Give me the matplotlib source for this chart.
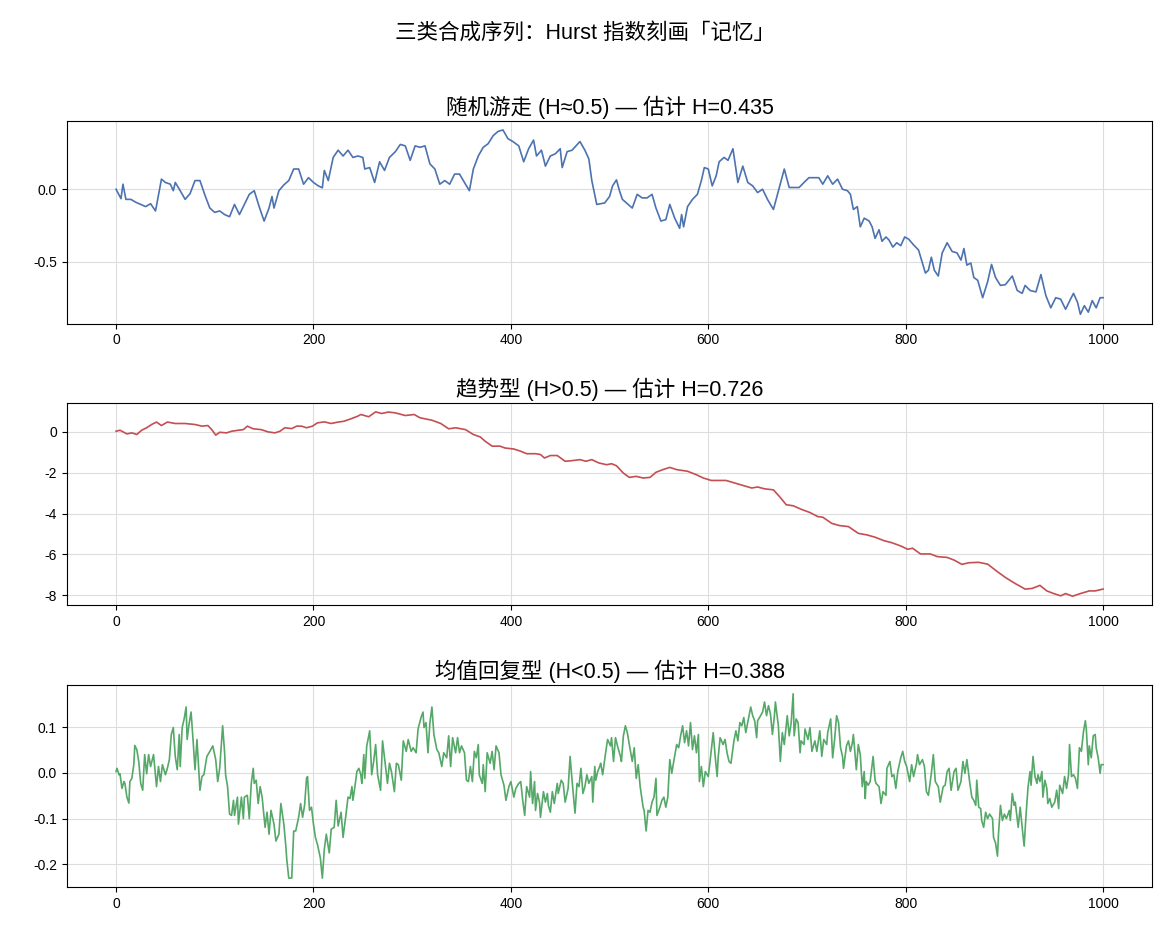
import matplotlib
matplotlib.use("Agg")
import matplotlib.pyplot as plt
from matplotlib.ticker import MultipleLocator

plt.rcParams['font.family'] = ['Liberation Sans', 'Noto Sans CJK SC']
plt.rcParams['axes.unicode_minus'] = False

# 随机游走 (readings)
rw_x = [0, 3, 5, 7, 10, 15, 20, 25, 30, 35, 40, 46, 50, 55, 58, 60, 65, 70, 75, 80,
        85, 90, 95, 100, 105, 110, 115, 120, 125, 130, 135, 140, 145, 150, 155, 158, 160, 165, 170, 175,
        180, 185, 190, 195, 200, 205, 209, 211, 215, 220, 225, 230, 235, 240, 245, 250, 252, 257, 262, 267,
        272, 277, 283, 288, 293, 298, 303, 308, 313, 318, 323, 328, 333, 338, 343, 348, 354, 358, 362, 367,
        372, 377, 382, 387, 392, 397, 402, 408, 413, 418, 423, 426, 431, 435, 440, 445, 450, 452, 457, 462,
        470, 475, 479, 482, 487, 495, 500, 503, 507, 510, 513, 518, 523, 528, 533, 538, 543, 547, 552, 557,
        561, 566, 571, 573, 575, 579, 584, 589, 593, 596, 600, 604, 608, 611, 616, 620, 625, 630, 635, 640,
        645, 650, 655, 660, 666, 672, 677, 682, 687, 692, 697, 702, 707, 712, 716, 721, 726, 731, 736, 741,
        744, 747, 751, 754, 758, 763, 766, 769, 773, 776, 780, 783, 787, 791, 795, 799, 803, 808, 813, 817,
        820, 823, 826, 829, 833, 837, 842, 847, 852, 856, 859, 862, 866, 869, 873, 878, 883, 887, 891, 896,
        901, 908, 913, 918, 921, 926, 932, 937, 942, 947, 952, 957, 962, 967, 970, 974, 977, 981, 985, 989,
        993, 997, 1000]
rw_y = [0.0, -0.04, -0.065, 0.035, -0.07, -0.07, -0.09, -0.105, -0.12, -0.10, -0.15, 0.07, 0.047, 0.035, -0.01, 0.047, -0.01, -0.07, -0.03, 0.06,
        0.06, -0.04, -0.13, -0.16, -0.15, -0.175, -0.19, -0.105, -0.175, -0.105, -0.035, -0.01, -0.12, -0.22, -0.13, -0.05, -0.13, -0.01, 0.03, 0.06,
        0.14, 0.14, 0.035, 0.08, 0.047, 0.023, 0.01, 0.13, 0.06, 0.22, 0.27, 0.23, 0.27, 0.22, 0.23, 0.22, 0.14, 0.15, 0.047, 0.19,
        0.13, 0.22, 0.26, 0.31, 0.30, 0.20, 0.30, 0.29, 0.30, 0.175, 0.14, 0.035, 0.06, 0.035, 0.105, 0.105, 0.035, -0.01, 0.14, 0.23,
        0.29, 0.315, 0.37, 0.40, 0.41, 0.35, 0.33, 0.30, 0.19, 0.28, 0.34, 0.23, 0.27, 0.16, 0.23, 0.245, 0.28, 0.15, 0.26, 0.27,
        0.33, 0.27, 0.21, 0.06, -0.105, -0.095, -0.05, 0.023, 0.065, -0.01, -0.07, -0.10, -0.13, -0.035, -0.06, -0.06, -0.035, -0.13, -0.22, -0.21,
        -0.105, -0.20, -0.27, -0.175, -0.26, -0.12, -0.07, -0.035, 0.06, 0.15, 0.14, 0.023, 0.093, 0.19, 0.22, 0.20, 0.28, 0.047, 0.16, 0.047,
        0.023, -0.023, 0.0, -0.07, -0.14, 0.012, 0.14, 0.012, 0.012, 0.012, 0.047, 0.08, 0.08, 0.08, 0.035, 0.093, 0.035, 0.07, 0.0, -0.01,
        -0.035, -0.14, -0.12, -0.26, -0.20, -0.22, -0.26, -0.34, -0.28, -0.36, -0.33, -0.35, -0.40, -0.37, -0.39, -0.33, -0.345, -0.385, -0.42, -0.51,
        -0.58, -0.56, -0.47, -0.56, -0.60, -0.44, -0.37, -0.43, -0.44, -0.49, -0.41, -0.525, -0.51, -0.61, -0.63, -0.75, -0.64, -0.52, -0.61, -0.665,
        -0.66, -0.60, -0.70, -0.72, -0.665, -0.70, -0.71, -0.59, -0.735, -0.82, -0.75, -0.76, -0.83, -0.76, -0.72, -0.78, -0.865, -0.805, -0.85, -0.77,
        -0.82, -0.75, -0.75]

# 趋势型
tr_x = [0, 4, 11, 16, 21, 26, 31, 36, 41, 46, 52, 60, 70, 80, 87, 93, 97, 101, 105, 112,
        117, 124, 129, 133, 139, 147, 154, 161, 166, 171, 178, 183, 188, 193, 199, 204, 211, 218, 225, 231,
        238, 245, 248, 256, 263, 269, 276, 283, 293, 302, 308, 320, 329, 337, 344, 354, 362, 369, 374, 381,
        389, 394, 403, 410, 416, 425, 430, 434, 440, 447, 455, 462, 470, 476, 482, 489, 497, 502, 507, 514,
        520, 527, 534, 541, 547, 554, 561, 568, 579, 588, 595, 603, 611, 618, 625, 633, 644, 650, 657, 666,
        672, 679, 686, 694, 703, 711, 716, 725, 733, 742, 748, 752, 761, 769, 778, 786, 795, 802, 807, 815,
        825, 832, 842, 849, 857, 864, 874, 883, 893, 901, 911, 921, 928, 936, 943, 950, 957, 962, 969, 977,
        986, 992, 1000]
tr_y = [0.03, 0.08, -0.1, -0.05, -0.13, 0.08, 0.2, 0.36, 0.48, 0.31, 0.48, 0.41, 0.41, 0.36, 0.28, 0.31, 0.11, -0.16, -0.02, -0.05,
        0.03, 0.08, 0.11, 0.28, 0.15, 0.11, 0.0, -0.05, 0.03, 0.2, 0.16, 0.28, 0.28, 0.2, 0.28, 0.44, 0.49, 0.41, 0.48, 0.52,
        0.64, 0.77, 0.85, 0.74, 0.98, 0.90, 0.97, 0.93, 0.80, 0.85, 0.69, 0.57, 0.41, 0.15, 0.2, 0.11, -0.13, -0.25, -0.46, -0.70,
        -0.70, -0.79, -0.84, -0.95, -1.07, -1.07, -1.11, -1.28, -1.16, -1.16, -1.44, -1.41, -1.36, -1.44, -1.36, -1.52, -1.61, -1.56, -1.66, -2.02,
        -2.23, -2.18, -2.26, -2.23, -1.98, -1.85, -1.74, -1.85, -1.93, -2.10, -2.26, -2.38, -2.38, -2.38, -2.48, -2.59, -2.75, -2.70, -2.79, -2.84,
        -3.16, -3.57, -3.62, -3.79, -3.95, -4.15, -4.18, -4.48, -4.59, -4.64, -4.84, -4.97, -5.05, -5.16, -5.33, -5.43, -5.59, -5.75, -5.70, -5.98,
        -5.98, -6.11, -6.15, -6.28, -6.49, -6.41, -6.39, -6.48, -6.85, -7.13, -7.43, -7.70, -7.67, -7.52, -7.79, -7.92, -8.03, -7.92, -8.05, -7.92,
        -7.79, -7.79, -7.70]

# 均值回复型
mr_x = [0, 1, 3, 4, 6, 8, 9, 11, 13, 14, 16, 18, 19, 21, 23, 25, 27, 29, 31, 33,
        35, 38, 41, 43, 45, 47, 50, 52, 54, 56, 58, 60, 62, 64, 65, 67, 69, 71, 72, 74,
        76, 78, 80, 82, 83, 85, 87, 89, 92, 95, 98, 101, 103, 105, 108, 110, 111, 113, 115, 117,
        119, 120, 123, 124, 127, 129, 130, 133, 135, 137, 139, 140, 142, 144, 146, 148, 151, 153, 155, 157,
        160, 162, 165, 167, 170, 172, 173, 175, 178, 180, 182, 185, 187, 189, 191, 193, 194, 196, 198, 200,
        202, 204, 207, 209, 211, 213, 216, 218, 221, 223, 225, 228, 230, 233, 235, 237, 239, 240, 242, 244,
        246, 248, 249, 251, 252, 254, 257, 259, 261, 263, 265, 268, 270, 273, 275, 277, 279, 282, 284, 286,
        289, 291, 294, 296, 299, 301, 304, 306, 309, 311, 312, 314, 316, 318, 320, 322, 325, 327, 330, 332,
        335, 337, 339, 341, 344, 346, 348, 350, 353, 355, 357, 359, 361, 363, 365, 367, 368, 371, 372, 374,
        376, 379, 381, 383, 385, 388, 390, 393, 395, 398, 400, 403, 405, 408, 410, 412, 414, 416, 419, 420,
        422, 424, 425, 427, 429, 430, 433, 435, 437, 438, 440, 442, 444, 447, 448, 451, 453, 455, 458, 460,
        462, 465, 467, 469, 471, 473, 475, 477, 479, 482, 483, 485, 486, 488, 490, 491, 493, 496, 498, 501,
        502, 504, 506, 508, 511, 512, 514, 516, 518, 520, 523, 525, 527, 529, 531, 534, 535, 537, 539, 541,
        543, 545, 547, 548, 551, 553, 555, 557, 559, 561, 563, 565, 568, 570, 572, 574, 576, 578, 580, 582,
        584, 586, 588, 590, 591, 593, 595, 597, 600, 602, 605, 607, 609, 610, 612, 615, 617, 619, 621, 623,
        626, 628, 630, 632, 634, 636, 638, 640, 643, 645, 647, 649, 650, 653, 655, 657, 659, 661, 663, 665,
        667, 668, 671, 673, 675, 677, 680, 682, 684, 686, 687, 689, 691, 693, 694, 697, 698, 701, 703, 705,
        708, 710, 713, 715, 717, 720, 721, 724, 726, 728, 730, 732, 734, 736, 737, 740, 742, 744, 746, 747,
        750, 752, 754, 756, 758, 759, 760, 762, 764, 765, 767, 769, 770, 773, 775, 777, 780, 781, 784, 786,
        788, 790, 792, 795, 797, 799, 801, 804, 806, 808, 811, 812, 814, 817, 819, 821, 823, 826, 828, 830,
        833, 835, 838, 840, 842, 844, 846, 849, 851, 853, 856, 858, 860, 862, 865, 867, 869, 871, 872, 874,
        876, 877, 879, 881, 883, 885, 888, 889, 891, 893, 894, 896, 898, 900, 902, 905, 906, 908, 910, 911,
        914, 916, 918, 920, 922, 924, 926, 927, 929, 931, 933, 934, 936, 938, 939, 941, 943, 944, 946, 948,
        951, 953, 955, 956, 959, 961, 963, 965, 966, 968, 970, 972, 974, 976, 978, 980, 982, 983, 985, 986,
        988, 990, 992, 993, 995, 997, 998, 1000]
mr_y = [0.003, 0.01, -0.004, -0.002, -0.034, -0.019, -0.023, -0.053, -0.066, -0.019, -0.012, 0.018, 0.06, 0.051, 0.025, -0.023, -0.038, 0.04, -0.002, 0.04,
        0.014, 0.04, -0.03, 0.014, -0.019, 0.018, -0.004, 0.01, 0.029, 0.084, 0.099, 0.036, 0.007, 0.084, 0.014, 0.099, 0.118, 0.144, 0.073, 0.107,
        0.133, 0.073, 0.007, 0.073, 0.036, -0.038, -0.008, -0.004, 0.036, 0.047, 0.059, 0.029, -0.019, 0.01, 0.103, 0.044, -0.004, -0.03, -0.09, -0.093,
        -0.06, -0.093, -0.053, -0.112, -0.053, -0.1, -0.053, -0.049, -0.1, -0.023, 0.01, -0.023, -0.016, -0.067, -0.03, -0.053, -0.119, -0.086, -0.134, -0.082,
        -0.112, -0.149, -0.134, -0.067, -0.112, -0.16, -0.19, -0.23, -0.23, -0.127, -0.127, -0.097, -0.067, -0.097, -0.071, -0.012, -0.008, -0.082, -0.075, -0.112,
        -0.141, -0.156, -0.186, -0.23, -0.167, -0.134, -0.175, -0.123, -0.119, -0.06, -0.116, -0.086, -0.141, -0.09, -0.053, -0.056, -0.03, -0.06, -0.03, 0.003,
        0.01, -0.004, -0.023, 0.04, -0.012, 0.059, 0.092, -0.004, 0.025, 0.062, -0.004, -0.038, 0.07, 0.014, -0.023, 0.021, 0.003, -0.041, 0.021, 0.018,
        -0.016, 0.07, 0.047, 0.073, 0.047, 0.055, 0.044, 0.096, 0.121, 0.133, 0.099, 0.11, 0.044, 0.11, 0.144, 0.084, 0.051, 0.044, 0.014, 0.044,
        0.033, 0.081, 0.014, 0.077, 0.044, 0.077, 0.044, 0.059, 0.044, -0.016, -0.019, 0.014, -0.019, 0.047, 0.033, 0.062, -0.004, -0.023, 0.018, -0.041,
        0.044, 0.021, 0.047, 0.007, 0.059, 0.044, -0.004, -0.027, -0.06, -0.03, -0.019, -0.053, -0.034, -0.023, -0.019, -0.06, -0.093, -0.03, -0.053, 0.003,
        -0.067, -0.019, -0.082, -0.045, -0.064, -0.097, -0.041, -0.064, -0.045, -0.071, -0.086, -0.041, -0.067, -0.023, -0.045, -0.016, -0.023, -0.064, -0.034, 0.036,
        -0.016, -0.088, -0.023, -0.03, 0.01, -0.045, -0.03, -0.004, -0.023, -0.008, -0.064, 0.014, -0.016, 0.003, 0.014, 0.021, -0.004, 0.044, 0.073, 0.059,
        0.077, 0.025, 0.077, 0.059, 0.036, 0.025, 0.081, 0.103, 0.088, 0.062, 0.025, 0.055, -0.012, 0.018, -0.03, -0.075, -0.082, -0.127, -0.082, -0.086,
        -0.064, -0.053, -0.012, -0.093, -0.075, -0.06, -0.053, -0.075, -0.053, 0.029, -0.001, 0.025, 0.062, 0.055, 0.081, 0.103, 0.066, 0.092, 0.059, 0.11,
        0.051, 0.081, 0.044, 0.084, -0.019, 0.014, -0.03, 0.003, -0.008, 0.029, 0.088, 0.036, -0.008, 0.033, 0.077, 0.062, 0.073, 0.044, 0.025, 0.021,
        0.07, 0.092, 0.07, 0.11, 0.103, 0.121, 0.088, 0.11, 0.144, 0.125, 0.114, 0.077, 0.114, 0.125, 0.133, 0.155, 0.125, 0.147, 0.129, 0.084,
        0.125, 0.155, 0.103, 0.025, 0.088, 0.062, 0.125, 0.081, 0.11, 0.173, 0.081, 0.118, 0.11, 0.044, 0.07, 0.062, 0.096, 0.073, 0.099, 0.047,
        0.07, 0.047, 0.092, 0.036, 0.073, 0.062, 0.088, 0.118, 0.033, 0.073, 0.125, 0.11, 0.055, 0.036, 0.01, 0.059, 0.07, 0.047, 0.066, 0.084,
        0.007, 0.062, 0.04, -0.03, 0.003, -0.056, -0.019, -0.027, -0.019, -0.001, 0.036, -0.016, -0.023, -0.03, -0.067, -0.041, -0.049, 0.01, 0.025, -0.008,
        -0.004, -0.034, 0.003, 0.033, 0.047, 0.025, 0.014, -0.019, 0.018, -0.008, 0.021, 0.04, 0.018, 0.029, 0.014, -0.041, -0.049, -0.001, 0.04, -0.019,
        -0.03, -0.064, -0.03, -0.027, 0.003, 0.01, -0.038, 0.003, 0.01, -0.038, -0.019, 0.025, -0.001, 0.029, -0.023, -0.053, -0.06, -0.071, -0.016, -0.075,
        -0.078, -0.104, -0.119, -0.086, -0.1, -0.09, -0.1, -0.141, -0.153, -0.182, -0.134, -0.071, -0.104, -0.09, -0.1, -0.082, -0.104, -0.045, -0.071, -0.064,
        -0.119, -0.075, -0.119, -0.16, -0.09, -0.03, 0.003, -0.027, 0.036, -0.008, -0.023, -0.004, -0.019, 0.003, -0.053, -0.016, -0.034, -0.067, -0.056, -0.075,
        -0.064, -0.038, -0.078, -0.027, -0.045, -0.008, -0.034, -0.004, 0.062, -0.008, -0.004, -0.012, -0.034, 0.055, 0.047, 0.088, 0.114, 0.096, 0.018, 0.059,
        0.033, 0.081, 0.084, 0.055, 0.033, -0.001, 0.018, 0.018]

titles = ["随机游走 (H≈0.5) — 估计 H=0.435",
          "趋势型 (H>0.5) — 估计 H=0.726",
          "均值回复型 (H<0.5) — 估计 H=0.388"]
colors = ["#4C72B0", "#C44E52", "#55A868"]
series = [(rw_x, rw_y), (tr_x, tr_y), (mr_x, mr_y)]

fig, axes = plt.subplots(3, 1, figsize=(11.7, 9.36), dpi=100)
fig.subplots_adjust(left=0.057, right=0.985, top=0.871, bottom=0.052, hspace=0.39)

for ax, (xs, ys), title, color in zip(axes, series, titles, colors):
    ax.plot(xs, ys, color=color, linewidth=1.2)
    ax.set_title(title, fontsize=15.5, pad=5)
    ax.grid(True, color="#dddddd", linewidth=0.8)
    ax.set_axisbelow(True)
    ax.tick_params(labelsize=10)

axes[0].yaxis.set_major_locator(MultipleLocator(0.5))

fig.suptitle("三类合成序列：Hurst 指数刻画「记忆」", fontsize=15.5, y=0.976)

plt.savefig("out.png", dpi=100)
